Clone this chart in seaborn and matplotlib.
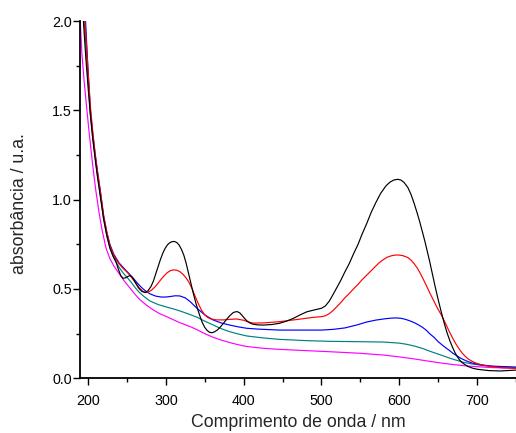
import numpy as np
import pandas as pd
import matplotlib
matplotlib.use("Agg")
import matplotlib.pyplot as plt
from matplotlib.ticker import MultipleLocator, FormatStrFormatter
import seaborn as sns

# UV-Vis absorption spectra, five samples
wl_black = [190, 194, 197, 200, 203, 206, 209, 212, 216, 220, 224, 228, 232, 236, 239, 242, 245, 248,
            251, 254, 257, 261, 265, 269, 273, 277, 281, 284, 287, 290, 293, 296, 299, 302, 305, 308,
            311, 314, 317, 320, 323, 326, 329, 332, 335, 338, 341, 344, 347, 350, 353, 356, 359, 362,
            366, 370, 374, 378, 382, 386, 389, 392, 395, 398, 401, 404, 408, 412, 418, 425, 436, 446,
            455, 464, 472, 481, 490, 500, 505, 510, 515, 520, 525, 530, 536, 541, 547, 552, 558, 564,
            570, 576, 583, 588, 593, 598, 602, 606, 611, 615, 619, 623, 626, 630, 633, 636, 639, 643,
            646, 650, 654, 658, 661, 665, 669, 672, 675, 678, 681, 685, 688, 694, 700, 705, 716, 730,
            750]
abs_black = [2.7, 2.0, 1.80, 1.63, 1.47, 1.34, 1.23, 1.13, 1.01, 0.89, 0.80, 0.73, 0.685, 0.65, 0.61,
             0.575, 0.56, 0.562, 0.57, 0.575, 0.565, 0.535, 0.505, 0.487, 0.48, 0.49, 0.515, 0.545,
             0.585, 0.625, 0.665, 0.70, 0.727, 0.747, 0.759, 0.765, 0.766, 0.76, 0.746, 0.722, 0.69,
             0.645, 0.59, 0.535, 0.48, 0.43, 0.385, 0.345, 0.31, 0.285, 0.268, 0.258, 0.255, 0.259,
             0.27, 0.287, 0.308, 0.33, 0.35, 0.366, 0.372, 0.373, 0.366, 0.352, 0.336, 0.322, 0.31,
             0.303, 0.299, 0.298, 0.301, 0.308, 0.32, 0.336, 0.354, 0.372, 0.382, 0.392, 0.405, 0.432,
             0.47, 0.51, 0.55, 0.595, 0.645, 0.695, 0.75, 0.805, 0.865, 0.93, 0.985, 1.035, 1.078,
             1.098, 1.11, 1.114, 1.11, 1.097, 1.068, 1.03, 0.98, 0.925, 0.88, 0.815, 0.765, 0.71,
             0.655, 0.575, 0.515, 0.44, 0.37, 0.305, 0.26, 0.21, 0.168, 0.14, 0.118, 0.10, 0.087,
             0.075, 0.067, 0.057, 0.051, 0.048, 0.043, 0.041, 0.046]

wl_red = [190, 196, 200, 203, 206, 209, 212, 216, 220, 224, 228, 232, 236, 240, 245, 250, 255, 260,
          265, 270, 274, 278, 282, 286, 290, 294, 298, 302, 306, 310, 314, 318, 322, 326, 330, 334,
          338, 342, 346, 350, 354, 358, 365, 374, 382, 391, 400, 406, 412, 425, 446, 470, 489, 500,
          505, 510, 515, 520, 525, 530, 536, 541, 547, 552, 558, 564, 569, 574, 579, 584, 590, 595,
          600, 605, 611, 615, 619, 623, 626, 630, 633, 636, 639, 643, 647, 650, 654, 658, 661, 665,
          669, 672, 675, 678, 681, 685, 688, 694, 700, 705, 716, 730, 750]
abs_red = [2.8, 2.0, 1.72, 1.52, 1.38, 1.26, 1.16, 1.04, 0.91, 0.82, 0.745, 0.70, 0.665, 0.64, 0.615,
           0.595, 0.57, 0.54, 0.51, 0.488, 0.48, 0.484, 0.495, 0.512, 0.533, 0.555, 0.575, 0.592,
           0.603, 0.607, 0.605, 0.597, 0.582, 0.562, 0.535, 0.498, 0.455, 0.415, 0.38, 0.355, 0.34,
           0.332, 0.327, 0.327, 0.33, 0.332, 0.325, 0.315, 0.309, 0.31, 0.317, 0.33, 0.341, 0.345,
           0.35, 0.362, 0.38, 0.402, 0.425, 0.45, 0.476, 0.50, 0.526, 0.551, 0.577, 0.603, 0.625,
           0.646, 0.663, 0.677, 0.686, 0.69, 0.69, 0.686, 0.676, 0.662, 0.642, 0.618, 0.595, 0.562,
           0.535, 0.508, 0.48, 0.445, 0.41, 0.385, 0.355, 0.32, 0.292, 0.255, 0.222, 0.198, 0.177,
           0.158, 0.14, 0.122, 0.11, 0.094, 0.083, 0.077, 0.067, 0.06, 0.056]

wl_blue = [190, 194, 197, 200, 203, 206, 209, 212, 216, 220, 224, 228, 233, 240, 248, 255, 260, 265,
           270, 275, 280, 287, 294, 300, 306, 312, 318, 325, 331, 340, 350, 361, 371, 382, 393, 404,
           420, 446, 472, 500, 515, 530, 545, 558, 570, 583, 590, 596, 602, 608, 614, 620, 625, 630,
           635, 639, 645, 650, 655, 660, 665, 669, 675, 680, 687, 694, 705, 720, 750]
abs_blue = [2.6, 2.2, 1.98, 1.72, 1.50, 1.37, 1.26, 1.16, 1.04, 0.91, 0.82, 0.75, 0.695, 0.645, 0.607,
            0.575, 0.55, 0.525, 0.503, 0.485, 0.472, 0.46, 0.455, 0.455, 0.458, 0.462, 0.461, 0.45,
            0.43, 0.392, 0.355, 0.326, 0.31, 0.298, 0.288, 0.28, 0.275, 0.27, 0.27, 0.27, 0.274, 0.282,
            0.298, 0.315, 0.326, 0.334, 0.337, 0.338, 0.336, 0.33, 0.321, 0.31, 0.298, 0.285, 0.268,
            0.25, 0.228, 0.205, 0.187, 0.17, 0.154, 0.14, 0.123, 0.11, 0.096, 0.085, 0.075, 0.068,
            0.063]

wl_teal = [190, 195, 200, 203, 206, 209, 212, 216, 220, 224, 228, 233, 240, 245, 250, 255, 260, 265,
           270, 275, 280, 290, 300, 310, 318, 328, 340, 350, 361, 371, 382, 393, 404, 425, 446, 480,
           510, 550, 580, 600, 610, 620, 630, 639, 647, 655, 662, 669, 682, 694, 710, 730, 750]
abs_teal = [2.5, 2.0, 1.68, 1.48, 1.35, 1.24, 1.14, 1.02, 0.895, 0.80, 0.73, 0.675, 0.62, 0.59, 0.565,
            0.54, 0.51, 0.485, 0.465, 0.447, 0.432, 0.413, 0.40, 0.388, 0.377, 0.362, 0.342, 0.32,
            0.298, 0.278, 0.261, 0.248, 0.237, 0.226, 0.218, 0.211, 0.207, 0.205, 0.203, 0.197, 0.19,
            0.18, 0.167, 0.152, 0.14, 0.128, 0.117, 0.107, 0.09, 0.08, 0.07, 0.064, 0.06]

wl_magenta = [190, 192, 195, 199, 202, 206, 210, 214, 218, 223, 228, 233, 240, 246, 252, 260, 267, 275,
              284, 292, 301, 310, 318, 331, 340, 350, 361, 372, 382, 393, 404, 425, 446, 480, 510,
              550, 580, 600, 620, 639, 655, 669, 685, 700, 720, 750]
abs_magenta = [2.0, 1.82, 1.66, 1.48, 1.35, 1.19, 1.05, 0.93, 0.83, 0.73, 0.67, 0.63, 0.585, 0.548,
               0.515, 0.472, 0.438, 0.41, 0.382, 0.362, 0.345, 0.327, 0.311, 0.29, 0.272, 0.25, 0.229,
               0.213, 0.2, 0.188, 0.178, 0.168, 0.162, 0.155, 0.149, 0.14, 0.13, 0.12, 0.108, 0.095,
               0.085, 0.077, 0.07, 0.065, 0.06, 0.056]

series = {
    "a": (wl_magenta, abs_magenta),
    "b": (wl_teal, abs_teal),
    "c": (wl_blue, abs_blue),
    "d": (wl_red, abs_red),
    "e": (wl_black, abs_black),
}
colors = {"a": "#ff00ff", "b": "#008080", "c": "#0000ff", "d": "#ff0000", "e": "#000000"}

df = pd.concat(
    [pd.DataFrame({"wl": w, "A": a, "sample": k}) for k, (w, a) in series.items()],
    ignore_index=True,
)

sns.set_theme(style="ticks")
plt.rcParams["font.family"] = ["Liberation Sans", "DejaVu Sans"]

fig = plt.figure(figsize=(5.16, 4.33), dpi=100)
ax = fig.add_axes([0.1556, 0.1263, 0.8444, 0.8252])

sns.lineplot(data=df, x="wl", y="A", hue="sample", hue_order=list(series.keys()),
             palette=colors, estimator=None, sort=False, linewidth=0.85, legend=False, ax=ax)

ax.set_xlim(190, 750)
ax.set_ylim(0, 2.0)
ax.xaxis.set_major_locator(MultipleLocator(100))
ax.xaxis.set_minor_locator(MultipleLocator(50))
ax.yaxis.set_major_locator(MultipleLocator(0.5))
ax.yaxis.set_minor_locator(MultipleLocator(0.25))
ax.yaxis.set_major_formatter(FormatStrFormatter("%.1f"))

for side in ("top", "right"):
    ax.spines[side].set_visible(False)
for side in ("left", "bottom"):
    ax.spines[side].set_linewidth(1.3)
    ax.spines[side].set_color("black")

ax.tick_params(which="major", direction="out", length=5, width=1.0, labelsize=10.3,
               colors="black")
ax.tick_params(which="minor", direction="out", length=3, width=1.0, colors="black")
ax.tick_params(axis="x", which="major", pad=6)
ax.tick_params(axis="y", which="major", pad=1)

ax.set_xlabel("Comprimento de onda / nm", fontsize=12.8)
ax.set_ylabel("absorbância / u.a.", fontsize=12.8)
ax.xaxis.set_label_coords(0.5, -0.10)
ax.yaxis.set_label_coords(-0.12, 0.49)

fig.savefig("out.png", dpi=100)
